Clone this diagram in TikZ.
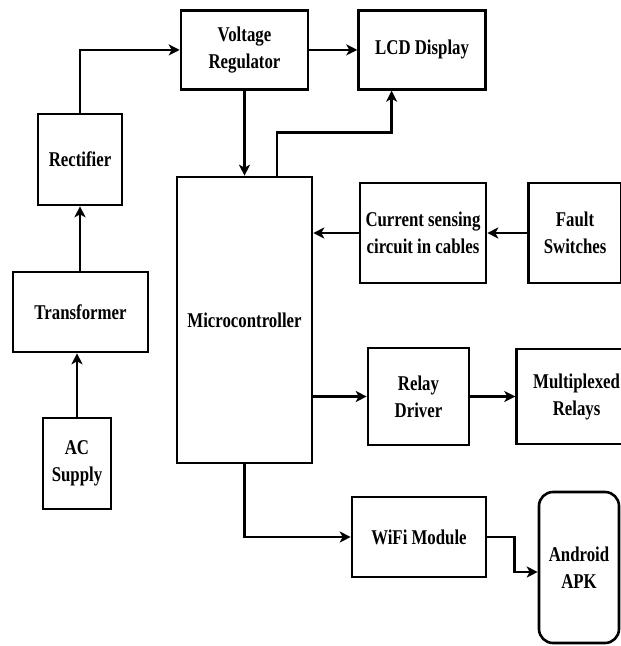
\documentclass[tikz,border=0pt]{standalone}
\usepackage{fontspec}
\newfontfamily\boxfont{Liberation Serif}[FakeStretch=0.8]
\usetikzlibrary{arrows.meta,positioning}

\begin{document}
\begin{tikzpicture}[
  x=1pt, y=-1pt,
  node distance=48pt and 48pt,
  flowbox/.style={draw, line width=2.6pt, inner sep=2pt, align=center,
               font=\boxfont\bfseries\fontsize{21}{27}\selectfont},
  apkbox/.style={flowbox, rounded corners=14pt},
  arrow/.style={-{Stealth[length=11pt,width=11pt,inset=3pt]}, line width=2.6pt}
]
\useasboundingbox (0,0) rectangle (621,646);
% centre column
\node[flowbox, minimum width=135pt, minimum height=286pt] (mcu) at (244.5,320) {Microcontroller};
\node[flowbox, minimum width=127pt, minimum height=79pt, above=85pt of mcu] (vreg) {Voltage\\Regulator};
\node[flowbox, minimum width=127pt, minimum height=79pt, right=of vreg] (lcd) {LCD Display};
% power chain
\node[flowbox, minimum width=68pt, minimum height=91pt] (acsup) at (77,463.5) {AC\\Supply};
\node[flowbox, minimum width=135pt, minimum height=80pt] (trafo) at (80.5,312) {Transformer};
\node[flowbox, minimum width=84pt, minimum height=91pt] (rect) at (80,159.5) {Rectifier};
% sensing
\node[flowbox, minimum width=126pt, minimum height=100pt] (sense) at (423,233) {Current sensing\\circuit in cables};
\node[flowbox, minimum width=93pt, minimum height=100pt, right=40pt of sense] (fault) {Fault\\Switches};
% outputs
\node[flowbox, minimum width=101pt, minimum height=97pt] (rdrv) at (418.5,396.5) {Relay\\Driver};
\node[flowbox, minimum width=120pt, minimum height=95pt, right=45pt of rdrv] (relays) {Multiplexed\\Relays};
\node[flowbox, minimum width=134pt, minimum height=80pt] (wifi) at (419,537) {WiFi Module};
\node[apkbox, minimum width=80pt, minimum height=151pt] (apk) at (579,567.5) {Android\\APK};

\draw[arrow] (acsup.north) -- (acsup.north |- trafo.south);
\draw[arrow] (rect.south |- trafo.north) -- (rect.south);
\draw[arrow] (rect.north) |- (vreg.west);
\draw[arrow] (vreg) -- (lcd);
\draw[arrow] (vreg.south) -- (vreg.south |- mcu.north);
\draw[arrow] ([xshift=32.5pt]mcu.north) -- ++(0,-43) -| ([xshift=-30.5pt]lcd.south);
\draw[arrow] (fault) -- (sense);
\draw[arrow] (sense) -- (sense -| mcu.east);
\draw[arrow] (mcu.east |- rdrv) -- (rdrv);
\draw[arrow] (rdrv) -- (relays);
\draw[arrow] (mcu.south) |- (wifi);
\draw[arrow] (wifi.east) -- ++(27,0) |- ([yshift=-4.5pt]apk.west);
\end{tikzpicture}
\end{document}
